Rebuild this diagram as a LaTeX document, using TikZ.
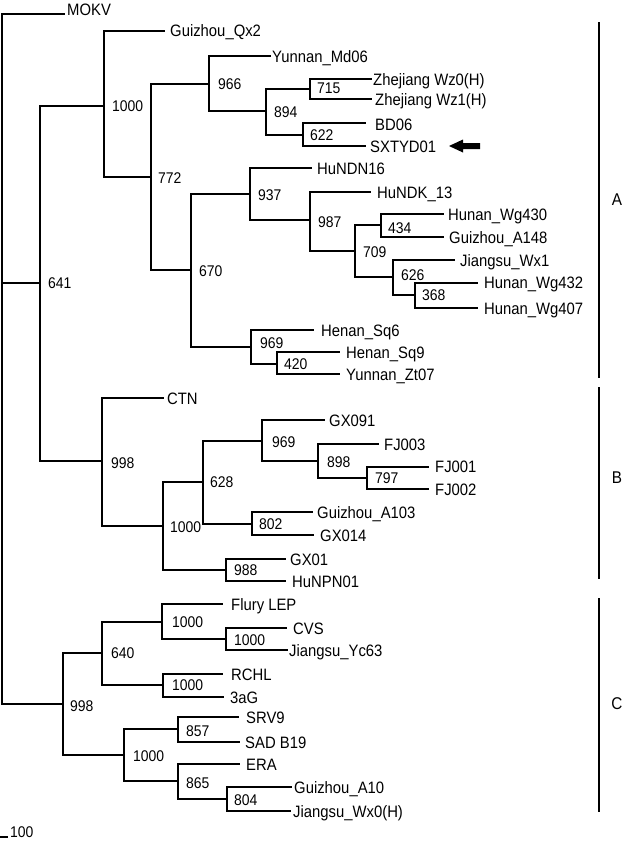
\documentclass[tikz,border=0pt]{standalone}
\usepackage{fontspec}
\setmainfont{Liberation Sans}[FakeStretch=0.9]
\begin{document}
\begin{tikzpicture}[x=1pt,y=-1pt,
  br/.style={line width=2pt},
  lf/.style={anchor=west,inner sep=0pt,text height=11.5pt,text depth=0pt,font=\fontsize{16.5}{16.5}\selectfont},
  bs/.style={anchor=west,inner sep=0pt,text height=11pt,text depth=0pt,font=\fontsize{15.5}{15.5}\selectfont},
  grp/.style={line width=2.4pt},
  grplab/.style={anchor=center,inner sep=0pt,font=\fontsize{17}{17}\selectfont}]
\useasboundingbox (0,0) rectangle (625,841);
% internal nodes
\coordinate (root) at (2,283);
\coordinate (n641) at (40,283);
\coordinate (nA1000) at (104,106);
\coordinate (n772) at (151,177);
\coordinate (n966) at (209,84);
\coordinate (n894) at (266,111);
\coordinate (n715) at (310,89);
\coordinate (n622) at (303,135);
\coordinate (n670) at (191,270);
\coordinate (n937) at (250,194);
\coordinate (n987) at (310,220);
\coordinate (n709) at (355,251);
\coordinate (n434) at (381,225);
\coordinate (n626) at (393,277);
\coordinate (n368) at (415,295);
\coordinate (nH969) at (251,347);
\coordinate (n420) at (277,364);
\coordinate (nB998) at (102,461);
\coordinate (nB1000) at (163,526);
\coordinate (n628) at (203,482);
\coordinate (nB969) at (262,441);
\coordinate (n898) at (318,461);
\coordinate (n797) at (367,478);
\coordinate (n802) at (252,524);
\coordinate (n988) at (226,570);
\coordinate (nC998) at (63,704);
\coordinate (n640) at (102,653);
\coordinate (nF1000) at (162,622);
\coordinate (nV1000) at (226,639);
\coordinate (nR1000) at (163,685);
\coordinate (nS1000) at (124,755);
\coordinate (n857) at (178,729);
\coordinate (n865) at (178,781);
\coordinate (n804) at (227,799);
% leaf ends
\coordinate (eMOKV) at (65,14);
\coordinate (eQx2) at (165,31);
\coordinate (eMd06) at (271,56);
\coordinate (eWz0) at (372,79);
\coordinate (eWz1) at (372,99);
\coordinate (eBD06) at (366,123);
\coordinate (eSX) at (366,146);
\coordinate (eN16) at (312,168);
\coordinate (eK13) at (371,192);
\coordinate (eW430) at (444,214);
\coordinate (eA148) at (444,237);
\coordinate (eWx1) at (455,260);
\coordinate (eW432) at (478,283);
\coordinate (eW407) at (478,308);
\coordinate (eSq6) at (314,330);
\coordinate (eSq9) at (340,352);
\coordinate (eZt07) at (340,374);
\coordinate (eCTN) at (164,398);
\coordinate (eGX091) at (325,420);
\coordinate (eFJ3) at (379,444);
\coordinate (eFJ1) at (429,467);
\coordinate (eFJ2) at (429,489);
\coordinate (eA103) at (313,512);
\coordinate (eGX014) at (314,535);
\coordinate (eGX01) at (286,559);
\coordinate (eNPN) at (286,581);
\coordinate (eFlury) at (223,604);
\coordinate (eCVS) at (287,628);
\coordinate (eYc63) at (288,650);
\coordinate (eRCHL) at (223,674);
\coordinate (e3aG) at (224,697);
\coordinate (eSRV9) at (239,717);
\coordinate (eSAD) at (240,742);
\coordinate (eERA) at (240,764);
\coordinate (eA10) at (292,787);
\coordinate (eWx0) at (291,811);
% branches
\draw[br] (root) |- (eMOKV);
\draw[br] (root) |- (n641);
\draw[br] (root) |- (nC998);
\draw[br] (n641) |- (nA1000);
\draw[br] (n641) |- (nB998);
\draw[br] (nA1000) |- (eQx2);
\draw[br] (nA1000) |- (n772);
\draw[br] (n772) |- (n966);
\draw[br] (n772) |- (n670);
\draw[br] (n966) |- (eMd06);
\draw[br] (n966) |- (n894);
\draw[br] (n894) |- (n715);
\draw[br] (n894) |- (n622);
\draw[br] (n715) |- (eWz0);
\draw[br] (n715) |- (eWz1);
\draw[br] (n622) |- (eBD06);
\draw[br] (n622) |- (eSX);
\draw[br] (n670) |- (n937);
\draw[br] (n670) |- (nH969);
\draw[br] (n937) |- (eN16);
\draw[br] (n937) |- (n987);
\draw[br] (n987) |- (eK13);
\draw[br] (n987) |- (n709);
\draw[br] (n709) |- (n434);
\draw[br] (n709) |- (n626);
\draw[br] (n434) |- (eW430);
\draw[br] (n434) |- (eA148);
\draw[br] (n626) |- (eWx1);
\draw[br] (n626) |- (n368);
\draw[br] (n368) |- (eW432);
\draw[br] (n368) |- (eW407);
\draw[br] (nH969) |- (eSq6);
\draw[br] (nH969) |- (n420);
\draw[br] (n420) |- (eSq9);
\draw[br] (n420) |- (eZt07);
\draw[br] (nB998) |- (eCTN);
\draw[br] (nB998) |- (nB1000);
\draw[br] (nB1000) |- (n628);
\draw[br] (nB1000) |- (n988);
\draw[br] (n628) |- (nB969);
\draw[br] (n628) |- (n802);
\draw[br] (nB969) |- (eGX091);
\draw[br] (nB969) |- (n898);
\draw[br] (n898) |- (eFJ3);
\draw[br] (n898) |- (n797);
\draw[br] (n797) |- (eFJ1);
\draw[br] (n797) |- (eFJ2);
\draw[br] (n802) |- (eA103);
\draw[br] (n802) |- (eGX014);
\draw[br] (n988) |- (eGX01);
\draw[br] (n988) |- (eNPN);
\draw[br] (nC998) |- (n640);
\draw[br] (nC998) |- (nS1000);
\draw[br] (n640) |- (nF1000);
\draw[br] (n640) |- (nR1000);
\draw[br] (nF1000) |- (eFlury);
\draw[br] (nF1000) |- (nV1000);
\draw[br] (nV1000) |- (eCVS);
\draw[br] (nV1000) |- (eYc63);
\draw[br] (nR1000) |- (eRCHL);
\draw[br] (nR1000) |- (e3aG);
\draw[br] (nS1000) |- (n857);
\draw[br] (nS1000) |- (n865);
\draw[br] (n857) |- (eSRV9);
\draw[br] (n857) |- (eSAD);
\draw[br] (n865) |- (eERA);
\draw[br] (n865) |- (n804);
\draw[br] (n804) |- (eA10);
\draw[br] (n804) |- (eWx0);
% bootstrap labels
\node[bs] (b641) at (48,283) {641};
\node[bs] (bA1000) at (112,106) {1000};
\node[bs] (b772) at (158,178) {772};
\node[bs] (b966) at (218,84) {966};
\node[bs] (b894) at (274,112) {894};
\node[bs] (b715) at (317,88) {715};
\node[bs] (b622) at (310,135) {622};
\node[bs] (b670) at (199,271) {670};
\node[bs] (b937) at (258,195) {937};
\node[bs] (b987) at (318,222) {987};
\node[bs] (b709) at (363,252) {709};
\node[bs] (b434) at (388,228) {434};
\node[bs] (b626) at (401,275) {626};
\node[bs] (b368) at (422,295) {368};
\node[bs] (bH969) at (260,343) {969};
\node[bs] (b420) at (284,364) {420};
\node[bs] (bB998) at (111,463) {998};
\node[bs] (bB1000) at (170,527) {1000};
\node[bs] (b628) at (210,482) {628};
\node[bs] (bB969) at (272,442) {969};
\node[bs] (b898) at (327,462) {898};
\node[bs] (b797) at (375,478) {797};
\node[bs] (b802) at (259,524) {802};
\node[bs] (b988) at (234,570) {988};
\node[bs] (bC998) at (70,706) {998};
\node[bs] (b640) at (111,653) {640};
\node[bs] (bF1000) at (172,622) {1000};
\node[bs] (bV1000) at (234,640) {1000};
\node[bs] (bR1000) at (172,685) {1000};
\node[bs] (bS1000) at (133,756) {1000};
\node[bs] (b857) at (186,731) {857};
\node[bs] (b865) at (186,783) {865};
\node[bs] (b804) at (234,800) {804};
% leaf labels
\node[lf] (lMOKV) at (67,10) {MOKV};
\node[lf] (lQx2) at (170,31) {Guizhou\_Qx2};
\node[lf] (lMd06) at (272,57) {Yunnan\_Md06};
\node[lf] (lWz0) at (373,80) {Zhejiang Wz0(H)};
\node[lf] (lWz1) at (375,100) {Zhejiang Wz1(H)};
\node[lf] (lBD06) at (375,125) {BD06};
\node[lf] (lSX) at (370,147) {SXTYD01};
\node[lf] (lN16) at (317,169) {HuNDN16};
\node[lf] (lK13) at (377,193) {HuNDK\_13};
\node[lf] (lW430) at (448,215) {Hunan\_Wg430};
\node[lf] (lA148) at (449,238) {Guizhou\_A148};
\node[lf] (lWx1) at (460,261) {Jiangsu\_Wx1};
\node[lf] (lW432) at (484,283) {Hunan\_Wg432};
\node[lf] (lW407) at (484,309) {Hunan\_Wg407};
\node[lf] (lSq6) at (321,331) {Henan\_Sq6};
\node[lf] (lSq9) at (346,353) {Henan\_Sq9};
\node[lf] (lZt07) at (346,375) {Yunnan\_Zt07};
\node[lf] (lCTN) at (167,399) {CTN};
\node[lf] (lGX091) at (329,421) {GX091};
\node[lf] (lFJ3) at (384,445) {FJ003};
\node[lf] (lFJ1) at (435,467) {FJ001};
\node[lf] (lFJ2) at (435,490) {FJ002};
\node[lf] (lA103) at (317,513) {Guizhou\_A103};
\node[lf] (lGX014) at (320,536) {GX014};
\node[lf] (lGX01) at (290,560) {GX01};
\node[lf] (lNPN) at (292,582) {HuNPN01};
\node[lf] (lFlury) at (231,605) {Flury LEP};
\node[lf] (lCVS) at (293,629) {CVS};
\node[lf] (lYc63) at (289,651) {Jiangsu\_Yc63};
\node[lf] (lRCHL) at (231,675) {RCHL};
\node[lf] (l3aG) at (230,698) {3aG};
\node[lf] (lSRV9) at (246,718) {SRV9};
\node[lf] (lSAD) at (245,743) {SAD B19};
\node[lf] (lERA) at (246,765) {ERA};
\node[lf] (lA10) at (294,788) {Guizhou\_A10};
\node[lf] (lWx0) at (293,812) {Jiangsu\_Wx0(H)};
% arrow pointing at SXTYD01
\fill (449,146) -- (463,139.5) -- (463,143) -- (480,143) -- (480,149) -- (463,149) -- (463,152.5) -- cycle;
% group bars
\coordinate (aTop) at (599,22);
\coordinate (aBot) at (599,378);
\coordinate (bTop) at (599,387);
\coordinate (bBot) at (599,579);
\coordinate (cTop) at (599,598);
\coordinate (cBot) at (599,812);
\draw[grp] (aTop) -- (aBot);
\draw[grp] (bTop) -- (bBot);
\draw[grp] (cTop) -- (cBot);
\node[grplab] (gA) at (617,200) {A};
\node[grplab] (gB) at (617,478) {B};
\node[grplab] (gC) at (617,704) {C};
% scale bar
\coordinate (s0) at (0,837);
\coordinate (s1) at (8,837);
\draw[line width=1.2pt] (s0) -- (s1);
\node[bs] (lscale) at (10,832) {100};
\end{tikzpicture}
\end{document}
